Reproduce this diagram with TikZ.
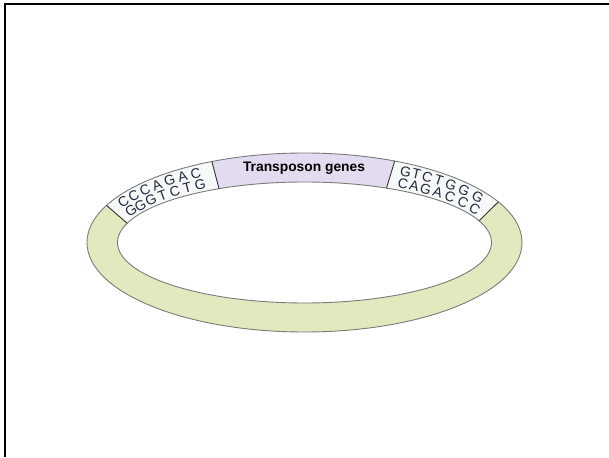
\documentclass[tikz,border=0pt]{standalone}
\usepackage{fontspec}
\setmainfont{Liberation Sans}
\usetikzlibrary{calc}
\definecolor{ringyellow}{HTML}{E4E8BE}
\definecolor{ringlav}{HTML}{E3DCF0}
\definecolor{ringwhite}{HTML}{F7F8F8}
\definecolor{edgegray}{HTML}{7A7A7A}
\definecolor{seqblue}{HTML}{1E2A40}
\begin{document}
\begin{tikzpicture}[x=1pt,y=1pt,
  seqletter/.style={inner sep=0pt, text=seqblue, font=\fontsize{14}{16}\selectfont},
  ringedge/.style={draw=edgegray, line width=0.9pt},
  segedge/.style={draw=black!80, line width=0.9pt},
  frameline/.style={line width=1.6pt, draw=black}]
\useasboundingbox (0,0) rectangle (609,457);
\def\cx{304.5}\def\cy{214.5}
\def\orx{217.5}\def\ory{89.5}
\def\irx{187}\def\iry{60.5}
\coordinate (c) at (\cx,\cy);
% segment fill: colour, outer start, outer end, inner start, inner end
\newcommand\ringseg[5]{%
  \fill[#1] ($(c)+(#2:\orx pt and \ory pt)$)
    arc[start angle=#2, end angle=#3, x radius=\orx pt, y radius=\ory pt]
    -- ($(c)+(#4:\irx pt and \iry pt)$)
    arc[start angle=#4, end angle=#5, x radius=\irx pt, y radius=\iry pt]
    -- cycle;}
\ringseg{ringyellow}{155.5}{387}{381}{161.5}
\ringseg{ringwhite}{115.2}{155.5}{161.5}{117.2}
\ringseg{ringlav}{65.5}{115.2}{117.2}{64}
\ringseg{ringwhite}{27}{65.5}{64}{21}
% outlines
\draw[ringedge] (c) ellipse[x radius=\orx pt, y radius=\ory pt];
\draw[ringedge] (c) ellipse[x radius=\irx pt, y radius=\iry pt];
% segment boundaries
\coordinate (b1o) at ($(c)+(155.5:\orx pt and \ory pt)$);
\coordinate (b1i) at ($(c)+(161.5:\irx pt and \iry pt)$);
\coordinate (b2o) at ($(c)+(115.2:\orx pt and \ory pt)$);
\coordinate (b2i) at ($(c)+(117.2:\irx pt and \iry pt)$);
\coordinate (b3o) at ($(c)+(65.5:\orx pt and \ory pt)$);
\coordinate (b3i) at ($(c)+(64:\irx pt and \iry pt)$);
\coordinate (b4o) at ($(c)+(27:\orx pt and \ory pt)$);
\coordinate (b4i) at ($(c)+(21:\irx pt and \iry pt)$);
\draw[segedge] (b1o) -- (b1i);
\draw[segedge] (b2o) -- (b2i);
\draw[segedge] (b3o) -- (b3i);
\draw[segedge] (b4o) -- (b4i);
% sequence letters
\foreach \ch/\t [count=\i] in {C/150,C/144.8,C/139.8,A/134.9,G/130.2,A/125.7,C/121.4}{
  \pgfmathsetmacro\rot{atan2(-81*cos(\t),209*sin(\t))}
  \node[seqletter, rotate=\rot] (lt\i) at ($(c)+(\t:209pt and 81pt)$) {\ch};}
\foreach \ch/\t [count=\i] in {G/152.2,G/146.9,G/141.6,T/136.4,C/131.4,T/126.7,G/122.2}{
  \pgfmathsetmacro\rot{atan2(-68*cos(\t),196*sin(\t))}
  \node[seqletter, rotate=\rot] (lb\i) at ($(c)+(\t:196pt and 68pt)$) {\ch};}
\foreach \ch/\t [count=\i] in {G/61,T/57.6,C/54,T/50,G/45.5,G/40.2,G/34}{
  \pgfmathsetmacro\rot{atan2(-81*cos(\t),209*sin(\t))}
  \node[seqletter, rotate=\rot] (rt\i) at ($(c)+(\t:209pt and 81pt)$) {\ch};}
\foreach \ch/\t [count=\i] in {C/59.8,A/55.9,G/51.8,A/47.2,C/42,C/36,C/29.8}{
  \pgfmathsetmacro\rot{atan2(-68*cos(\t),196*sin(\t))}
  \node[seqletter, rotate=\rot] (rb\i) at ($(c)+(\t:196pt and 68pt)$) {\ch};}
\node[font=\fontsize{13.8}{16}\selectfont\bfseries, inner sep=0pt] (genes) at (304,289) {Transposon genes};
% frame
\draw[frameline] (609,453) -- (5,453) -- (5,0);
\end{tikzpicture}
\end{document}
